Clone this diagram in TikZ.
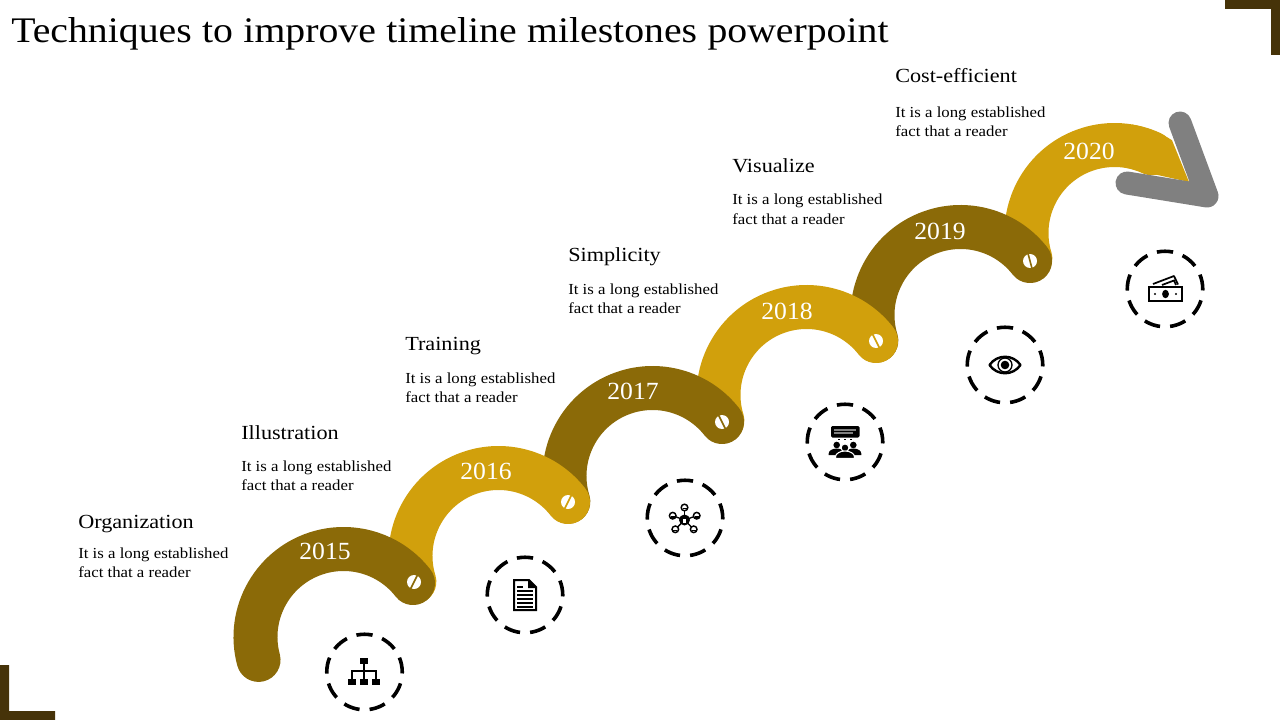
\documentclass[tikz,border=0pt]{standalone}
\usepackage{fontspec}
\setmainfont{Liberation Serif}
\newfontfamily\titlefont[FakeStretch=1.104,WordSpace=1.05]{Liberation Serif}
\newfontfamily\headfont[FakeStretch=1.11]{Liberation Serif}
\newfontfamily\bodyfont[FakeStretch=1.095]{Liberation Serif}
\newfontfamily\yearfont[FakeStretch=1.04]{Liberation Serif}
\definecolor{darkgold}{HTML}{8B6A08}
\definecolor{brightgold}{HTML}{D1A00C}
\definecolor{cornerbrown}{HTML}{463309}
\definecolor{arrowgray}{HTML}{808080}
\tikzset{
  band/.style={line width=33pt,line cap=round},
  chevron/.style={line width=17.25pt,line cap=round,line join=round,draw=arrowgray},
  yearlabel/.style={text=white,inner sep=0pt,anchor=base,font=\yearfont\fontsize{18.5}{20}\selectfont},
  headlabel/.style={inner sep=0pt,anchor=base west,font=\headfont\fontsize{15}{18}\selectfont},
  bodylabel/.style={inner sep=0pt,anchor=base west,align=left,font=\bodyfont\fontsize{11.5}{14.25}\selectfont},
  ring/.style={circle,draw=black,minimum size=56.6pt,inner sep=0pt,line width=2.7pt,
    dash pattern=on 12.2pt off 7.56pt,dash phase=1.17pt},
  hole/.style={circle,fill=white,minimum size=10.5pt,inner sep=0pt},
  thin line/.style={draw=black,line width=0.9pt},
}
\begin{document}
\begin{tikzpicture}[x=0.75pt,y=-0.75pt]
\useasboundingbox (0,0) rectangle (1280,720);
% corners
\fill[cornerbrown] (1225,0) -- (1280,0) -- (1280,55) -- (1271,55) -- (1271,9) -- (1225,9) -- cycle;
\fill[cornerbrown] (0,665) -- (9,665) -- (9,711) -- (55,711) -- (55,720) -- (0,720) -- cycle;
% title
\node[inner sep=0pt,anchor=base west,font=\titlefont\fontsize{27}{32}\selectfont] (title) at (11,43) {Techniques to improve timeline milestones powerpoint};
% 2020 band and arrow
\draw[band,draw=brightgold] (1114.5,233) ++(163:88) arc (163:295:88);
\fill[brightgold] (1113,233) ++(280:110) arc (280:302.4:110) -- (1189,182) -- (1135,170) arc (289.2:280:66.7) -- cycle;
\coordinate (arrowtop) at (1180,123);
\coordinate (arrowtip) at (1207,196);
\coordinate (arrowleft) at (1127,183);
\draw[chevron] (arrowtop) -- (arrowtip) -- (arrowleft);
% bands, back to front
\draw[band,draw=darkgold]   (960.5,315) ++(163:88) arc (163:322.2:88);
\draw[band,draw=brightgold] (806.5,395) ++(163:88) arc (163:322.2:88);
\draw[band,draw=darkgold]   (652.5,476) ++(163:88) arc (163:322.2:88);
\draw[band,draw=brightgold] (498.5,556) ++(163:88) arc (163:322.2:88);
\draw[band,draw=darkgold]   (343.5,637) ++(164.9:88) arc (164.9:322.2:88);
% screw dots
\node[hole] (d15) at (414,582) {};
\draw[darkgold,line width=1.2pt] (d15) ++(3.5,-7) -- ++(-7,14);
\node[hole] (d16) at (568,502) {};
\draw[brightgold,line width=1.2pt] (d16) ++(3.5,-7) -- ++(-7,14);
\node[hole] (d17) at (722,422) {};
\draw[darkgold,line width=1.2pt] (d17) ++(-3.5,-7) -- ++(7,14);
\node[hole] (d18) at (876,341) {};
\draw[brightgold,line width=1.2pt] (d18) ++(-3.5,-7) -- ++(7,14);
\node[hole] (d19) at (1030,261) {};
\draw[darkgold,line width=1.2pt] (d19) ++(-2,-7.5) -- ++(4,15);
% years
\node[yearlabel] (y15) at (325,559) {2015};
\node[yearlabel] (y16) at (486,479) {2016};
\node[yearlabel] (y17) at (633,399) {2017};
\node[yearlabel] (y18) at (787,319) {2018};
\node[yearlabel] (y19) at (940,239) {2019};
\node[yearlabel] (y20) at (1089,160) {2020};
% labels
\node[headlabel] (h1) at (78,528) {Organization};
\node[bodylabel] (b1) at (78,577) {It is a long established\\fact that a reader};
\node[headlabel] (h2) at (241,439) {Illustration};
\node[bodylabel] (b2) at (241,490) {It is a long established\\fact that a reader};
\node[headlabel] (h3) at (405,350) {Training};
\node[bodylabel] (b3) at (405,402) {It is a long established\\fact that a reader};
\node[headlabel] (h4) at (568,261) {Simplicity};
\node[bodylabel] (b4) at (568,313) {It is a long established\\fact that a reader};
\node[headlabel] (h5) at (732,173) {Visualize};
\node[bodylabel] (b5) at (732,224) {It is a long established\\fact that a reader};
\node[headlabel] (h6) at (895,83) {Cost-efficient};
\node[bodylabel] (b6) at (895,137) {It is a long established\\fact that a reader};
% dashed rings
\node[ring] (r1) at (364.5,672) {};
\node[ring] (r2) at (525,595) {};
\node[ring] (r3) at (685,518) {};
\node[ring] (r4) at (845,442) {};
\node[ring] (r5) at (1005,365) {};
\node[ring] (r6) at (1165,289) {};
% icon 1: org chart
\fill (360,658) rectangle (368,664);
\fill (348,679) rectangle (356,684.5);
\fill (360,679) rectangle (368,684.5);
\fill (372,679) rectangle (380,684.5);
\draw[thin line] (364,664) -- (364,679) (352,679) -- (352,671) -- (376,671) -- (376,679);
% icon 2: document
\draw[black,line width=1.5pt,fill=white,line join=miter] (514,580) -- (529,580) -- (536,587) -- (536,610) -- (514,610) -- cycle;
\fill (528,579) -- (537,588) -- (528,588) -- cycle;
\foreach \yy in {591,595,599,603,607} {\draw[black,line width=1.2pt] (517,\yy) -- (533,\yy);}
\draw[black,line width=1.2pt] (517,587) -- (523,587);
% icon 3: network
\coordinate (hub) at (684.5,520);
\foreach \px/\py in {684.5/507.5,672.7/515.7,696.7/515.7,675.3/529.3,693.7/529.3} {
  \draw[black,line width=1pt] (hub) -- (\px,\py);
  \draw[black,line width=1.1pt,fill=white] (\px,\py) circle (3.3);
  \fill (\px,\py+0.3) ++(-2,1.6) rectangle ++(4,-1.6);
}
\fill (hub) circle (5.5);
\fill[white] (683,519) rectangle (686,523);
% icon 4: audience and screen
\fill[rounded corners=1pt] (831,426) rectangle (859.5,437.5);
\fill[arrowgray] (834,429) rectangle (856,431);
\fill[arrowgray] (834,432) rectangle (853,434);
\foreach \px in {839,845,851} {\fill (\px-0.7,438.5) rectangle (\px+0.7,440);}
\foreach \px in {836.7,853.3} {
  \fill (\px,445) circle (3.3);
  \fill (\px-8,455) -- (\px-8,453.5) arc (180:360:8 and 5) -- (\px+8,455) -- cycle;
}
\draw[white,line width=0.8pt,fill=black] (845,447.8) circle (3.9);
\draw[white,line width=0.8pt,fill=black] (835.5,458.5) -- (835.5,457) arc (180:360:9.5 and 6) -- (854.5,458.5) -- cycle;
% icon 5: eye
\draw[black,line width=1.8pt,fill=white,line join=round] (989.5,365) .. controls (997,354) and (1013,354) .. (1020.5,365) .. controls (1013,376) and (997,376) .. (989.5,365) -- cycle;
\draw[black,line width=1pt] (1005,365) circle (7);
\fill (1005,365) circle (4.3);
% icon 6: banknotes
\draw[black,line width=1.8pt,fill=white] (1149,287) rectangle (1182,301);
\fill (1165.5,294) ellipse (3.4 and 4.2);
\fill (1155,294) circle (1.1);
\fill (1176,294) circle (1.1);
\draw[black,line width=1.3pt,line join=round] (1153,284) -- (1174,276) -- (1178,284.5);
\draw[black,line width=1.3pt] (1162,285) -- (1174,280.5) -- (1176,285);
\end{tikzpicture}
\end{document}
